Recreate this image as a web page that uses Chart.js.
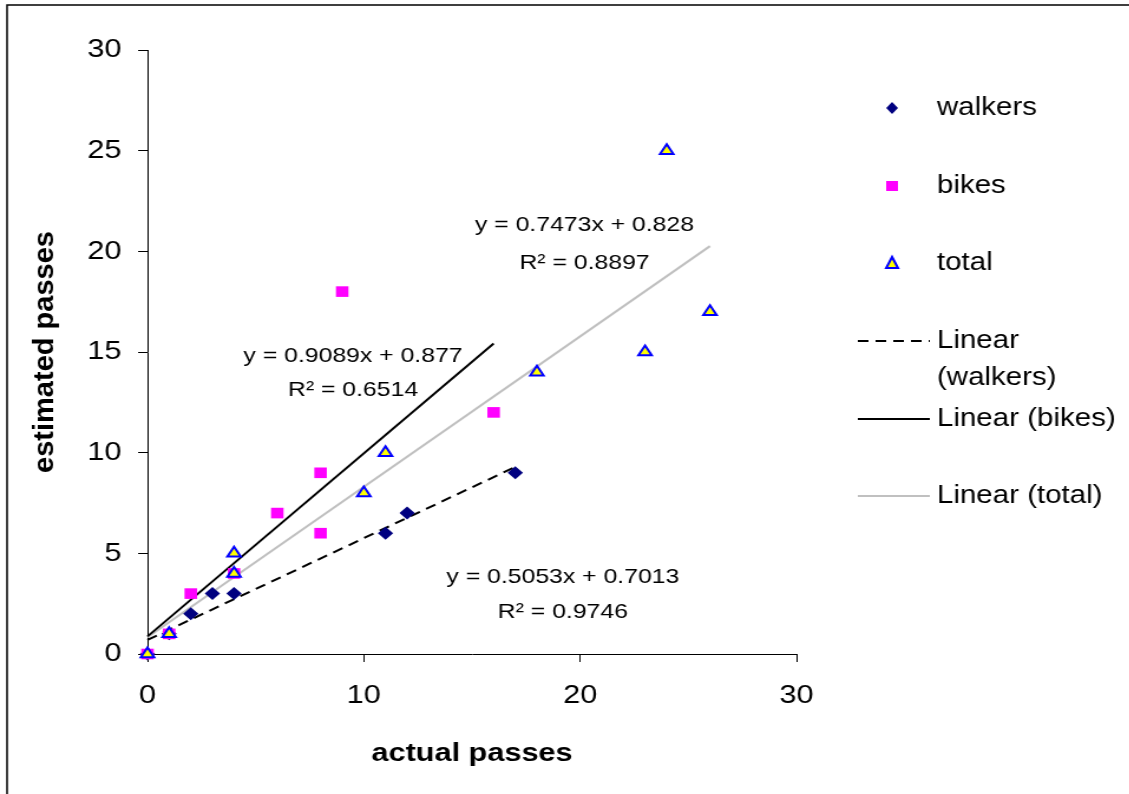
<!DOCTYPE html>
<html>
<head>
<meta charset="utf-8">
<script src="https://cdn.jsdelivr.net/npm/chart.js@4/dist/chart.umd.min.js"></script>
<style>
  html, body { margin: 0; padding: 0; background: #fff; overflow: hidden; }
  #wrap { width: 957px; height: 794px; transform: scaleX(1.18); transform-origin: 0 0; }
</style>
</head>
<body>
<div id="wrap"><canvas id="chart" width="957" height="794"></canvas></div>
<script>
// observed points
const walkersX = [0, 1, 2, 3, 4, 11, 12, 17];
const walkersY = [0, 1, 2, 3, 3, 6, 7, 9];
const bikesX = [0, 1, 2, 4, 6, 8, 8, 9, 16];
const bikesY = [0, 1, 3, 4, 7, 9, 6, 18, 12];
const totalX = [0, 1, 4, 4, 10, 11, 18, 23, 24, 26];
const totalY = [0, 1, 5, 4, 8, 10, 14, 15, 25, 17];

// trendlines as printed on the chart (walkers, bikes, total)
const trendSlope = [0.5053, 0.9089, 0.7473];
const trendIntercept = [0.7013, 0.877, 0.828];
const trendEnd = [17, 16, 26];
const trendEq = ['y = 0.5053x + 0.7013', 'y = 0.9089x + 0.877', 'y = 0.7473x + 0.828'];
const trendR2 = ['R² = 0.9746', 'R² = 0.6514', 'R² = 0.8897'];
// where the equation boxes sit, in data units
const eqAtX = [19.2, 9.5, 20.2];
const eqAtY = [3.8, 14.8, 21.3];
const r2AtY = [2.1, 13.1, 19.4];

const FONT = "'Liberation Sans', Arial, sans-serif";
const STRETCH = 1.18;

function pts(xs, ys) {
    return xs.map((x, i) => ({ x: x, y: ys[i] }));
}

function trend(i) {
    return [
        { x: 0, y: trendIntercept[i] },
        { x: trendEnd[i], y: trendSlope[i] * trendEnd[i] + trendIntercept[i] }
    ];
}

const extras = {
    id: 'extras',
    beforeDraw(chart) {
        const ctx = chart.ctx;
        ctx.save();
        ctx.fillStyle = '#fff';
        ctx.fillRect(0, 0, chart.width, chart.height);
        ctx.strokeStyle = '#000';
        ctx.lineWidth = 1.5;
        ctx.strokeRect(6, 5, 3000, 3000);
        ctx.restore();
    },
    afterDraw(chart) {
        const ctx = chart.ctx;
        const sx = chart.scales.x, sy = chart.scales.y;
        const area = chart.chartArea;
        ctx.save();
        ctx.fillStyle = '#000';
        ctx.textAlign = 'center';
        ctx.textBaseline = 'middle';

        // y axis title, un-stretched so it reads like the original
        ctx.save();
        ctx.translate(38, (area.top + area.bottom) / 2);
        ctx.scale(1 / STRETCH, 1);
        ctx.rotate(-Math.PI / 2);
        ctx.font = 'bold 29px ' + FONT;
        ctx.fillText('estimated passes', 0, 0);
        ctx.restore();

        ctx.font = '21px ' + FONT;
        for (let i = 0; i < 3; i++) {
            const cx = sx.getPixelForValue(eqAtX[i]);
            ctx.fillText(trendEq[i], cx, sy.getPixelForValue(eqAtY[i]));
            ctx.fillText(trendR2[i], cx, sy.getPixelForValue(r2AtY[i]));
        }

        // legend
        const mx = 756, tx = 794, l0 = 727, l1 = 788;
        ctx.textAlign = 'left';
        ctx.font = '25px ' + FONT;
        ctx.fillText('walkers', tx, 108);
        ctx.fillText('bikes', tx, 186);
        ctx.fillText('total', tx, 263);

        // walkers diamond
        ctx.fillStyle = '#000080';
        ctx.beginPath();
        ctx.moveTo(mx, 102); ctx.lineTo(mx + 5, 108); ctx.lineTo(mx, 114); ctx.lineTo(mx - 5, 108);
        ctx.closePath(); ctx.fill();
        // bikes square
        ctx.fillStyle = '#ff00ff';
        ctx.fillRect(mx - 5, 181, 10, 10);
        // total triangle
        ctx.fillStyle = '#ffff00';
        ctx.strokeStyle = '#0000ff';
        ctx.lineWidth = 2;
        ctx.beginPath();
        ctx.moveTo(mx, 257); ctx.lineTo(mx + 5, 268); ctx.lineTo(mx - 5, 268);
        ctx.closePath(); ctx.fill(); ctx.stroke();

        ctx.fillStyle = '#000';
        ctx.fillText('Linear', tx, 341);
        ctx.fillText('(walkers)', tx, 378);
        ctx.fillText('Linear (bikes)', tx, 419);
        ctx.fillText('Linear (total)', tx, 496);

        ctx.lineWidth = 2;
        ctx.strokeStyle = '#000';
        ctx.setLineDash([9, 6]);
        ctx.beginPath(); ctx.moveTo(l0, 341); ctx.lineTo(l1, 341); ctx.stroke();
        ctx.setLineDash([]);
        ctx.beginPath(); ctx.moveTo(l0, 419); ctx.lineTo(l1, 419); ctx.stroke();
        ctx.strokeStyle = '#c0c0c0';
        ctx.beginPath(); ctx.moveTo(l0, 496); ctx.lineTo(l1, 496); ctx.stroke();
        ctx.restore();
    }
};

const lineDs = (label, i, color, dash, order) => ({
    type: 'line',
    label: label,
    data: trend(i),
    borderColor: color,
    borderWidth: 2,
    borderDash: dash,
    pointRadius: 0,
    fill: false,
    clip: false,
    order: order
});

new Chart(document.getElementById('chart').getContext('2d'), {
    type: 'scatter',
    data: {
        datasets: [
            {
                label: 'walkers',
                data: pts(walkersX, walkersY),
                pointStyle: 'rectRot',
                pointRadius: 6.5,
                backgroundColor: '#000080',
                borderColor: '#000080',
                borderWidth: 0,
                clip: false,
                order: 3
            },
            {
                label: 'bikes',
                data: pts(bikesX, bikesY),
                pointStyle: 'rect',
                pointRadius: 7.5,
                backgroundColor: '#ff00ff',
                borderColor: '#ff00ff',
                borderWidth: 0,
                clip: false,
                order: 2
            },
            {
                label: 'total',
                data: pts(totalX, totalY),
                pointStyle: 'triangle',
                pointRadius: 6.5,
                backgroundColor: '#ffff00',
                borderColor: '#0000ff',
                borderWidth: 2,
                clip: false,
                order: 1
            },
            lineDs('Linear (walkers)', 0, '#000', [9, 6], 4),
            lineDs('Linear (bikes)', 1, '#000', [], 5),
            lineDs('Linear (total)', 2, '#c0c0c0', [], 6)
        ]
    },
    options: {
        responsive: false,
        animation: false,
        layout: { padding: { top: 50, right: 282, bottom: 0, left: 0 } },
        plugins: {
            legend: { display: false },
            tooltip: { enabled: false }
        },
        scales: {
            x: {
                type: 'linear',
                min: 0,
                max: 30,
                afterFit: s => { s.height = 140; },
                ticks: { stepSize: 10, color: '#000', padding: 18, font: { family: FONT, size: 26 } },
                grid: { drawOnChartArea: false, drawTicks: true, tickLength: 8, color: '#000' },
                border: { color: '#000', width: 1 },
                title: {
                    display: true,
                    text: 'actual passes',
                    color: '#000',
                    font: { family: FONT, size: 26, weight: 'bold' },
                    padding: { top: 0, bottom: 25 }
                }
            },
            y: {
                min: 0,
                max: 30,
                afterFit: s => { s.width = 125; },
                ticks: { stepSize: 5, color: '#000', padding: 14, font: { family: FONT, size: 26 } },
                grid: { drawOnChartArea: false, drawTicks: true, tickLength: 8, color: '#000' },
                border: { color: '#000', width: 1 }
            }
        }
    },
    plugins: [extras]
});
</script>
</body>
</html>
